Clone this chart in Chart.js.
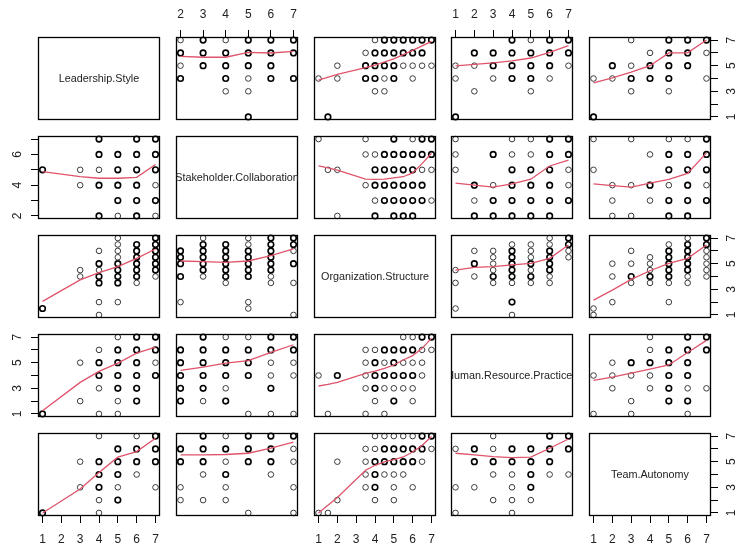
<!DOCTYPE html>
<html><head><meta charset="utf-8">
<script src="https://cdn.jsdelivr.net/npm/chart.js@4/dist/chart.umd.min.js"></script>
<style>
html,body{margin:0;padding:0;background:#fff;overflow:hidden;width:737px;height:548px;position:relative}
canvas{position:absolute}
</style></head><body>
<script>
// ---------------- data ----------------
const variables = ['Leadership.Style','Stakeholder.Collaboration','Organization.Structure','Human.Resource.Practices','Team.Autonomy'];
const valueRanges = [[1,7],[2,7],[1,7],[1,7],[1,7]];
const axisTicks = [[1,2,3,4,5,6,7],[2,3,4,5,6,7],[1,2,3,4,5,6,7],[1,2,3,4,5,6,7],[1,2,3,4,5,6,7]];
const horizontalTickLabels = [['1','2','3','4','5','6','7'],['2','3','4','5','6','7'],['1','2','3','4','5','6','7'],['1','2','3','4','5','6','7'],['1','2','3','4','5','6','7']];
const verticalTickLabels = [['1','','3','','5','','7'],['2','','4','','6',''],['1','','3','','5','','7'],['1','','3','','5','','7'],['1','','3','','5','','7']];

// observed pairs [first variable, second variable, n]  (n = 1 single point, 2 = overplotted)
const pts_L_S = [
  [7,2,1],[7,3,2],[7,4,1],[7,5,2],[7,6,2],[7,7,2],
  [6,2,2],[6,3,2],[6,4,2],[6,5,2],[6,6,2],[6,7,2],
  [5,2,1],[5,3,2],[5,4,2],[5,5,2],[5,6,2],
  [4,2,2],[4,4,2],[4,5,1],[4,6,2],[4,7,2],
  [3,4,1],[3,5,1],
  [1,5,2]];
const pts_L_O = [
  [7,4,1],[7,4.5,2],[7,5,2],[7,5.5,2],[7,6,2],[7,6.5,2],[7,7,2],
  [6,3.5,1],[6,4,2],[6,4.5,2],[6,5,2],[6,5.5,2],[6,6,2],[6,6.5,2],
  [5,2,1],[5,3.5,2],[5,4,2],[5,4.5,2],[5,5,2],[5,5.5,1],[5,6,1],[5,6.5,1],[5,7,1],
  [4,1,1],[4,2,1],[4,3.5,2],[4,4,2],[4,4.5,1],[4,5,2],[4,6,1],
  [3,4,1],[3,4.5,1],
  [1,1.5,2]];
const pts_L_H = [
  [7,4,2],[7,5,1],[7,6,2],[7,7,2],
  [6,2,2],[6,3,2],[6,4,2],[6,5,2],[6,6,2],[6,7,2],
  [5,1,1],[5,2,1],[5,3,2],[5,4,2],[5,5,2],[5,6,2],[5,7,1],
  [4,1,1],[4,3,1],[4,4,2],[4,5,2],[4,6,1],
  [3,2,1],[3,5,1],
  [1,1,2]];
const pts_L_T = [
  [7,3,1],[7,5,2],[7,6,2],[7,7,2],
  [6,4,1],[6,5,2],[6,6,2],[6,7,1],
  [5,2,2],[5,3,1],[5,4,2],[5,5,2],[5,6,2],
  [4,1,1],[4,2,1],[4,3,2],[4,4,2],[4,5,2],[4,7,1],
  [3,3,1],[3,5,1],
  [1,1,2]];
const pts_S_O = [
  [7,1,1],[7,3.5,1],[7,5,2],[7,6,1],[7,6.5,2],[7,7,2],
  [6,3.5,1],[6,4,1],[6,4.5,2],[6,5,2],[6,5.5,2],[6,6,2],[6,6.5,2],[6,7,2],
  [5,1.5,1],[5,2,1],[5,4,2],[5,4.5,2],[5,5,2],[5,5.5,2],[5,6,2],[5,6.5,1],[5,7,1],
  [4,3.5,1],[4,4,2],[4,4.5,2],[4,5,2],[4,5.5,2],[4,6,2],[4,6.5,2],
  [3,4,1],[3,4.5,2],[3,5,2],[3,5.5,2],[3,6,2],[3,6.5,2],[3,7,1],
  [2,2,1],[2,4,2],[2,5,2],[2,5.5,2],[2,6,2]];
const pts_S_H = [
  [7,1,1],[7,4,1],[7,5,1],[7,6,2],[7,7,2],
  [6,1,1],[6,3,2],[6,4,1],[6,5,1],[6,6,2],[6,7,2],
  [5,1,1],[5,4,2],[5,5,2],[5,6,2],[5,7,1],
  [4,2,2],[4,3,1],[4,4,2],[4,5,2],[4,6,2],[4,7,1],
  [3,2,1],[3,3,2],[3,4,2],[3,5,2],[3,6,2],[3,7,2],
  [2,2,2],[2,3,2],[2,4,2],[2,5,2],[2,6,2]];
const pts_S_T = [
  [7,1,1],[7,3,1],[7,5,1],[7,6,1],[7,7,2],
  [6,4,1],[6,5,2],[6,6,2],[6,7,2],
  [5,1,1],[5,5,2],[5,6,2],[5,7,2],
  [4,2,1],[4,3,1],[4,4,2],[4,5,1],[4,6,2],[4,7,1],
  [3,2,1],[3,4,1],[3,5,2],[3,6,2],[3,7,2],
  [2,2,1],[2,3,1],[2,5,2],[2,6,2]];
const pts_O_H = [
  [5.5,7,1],[6,7,1],[6.5,7,2],[7,7,2],
  [3.5,6,1],[4,6,1],[4.5,6,2],[5,6,2],[5.5,6,2],[6,6,2],[6.5,6,1],[7,6,1],
  [3.5,5,1],[4,5,2],[4.5,5,1],[5,5,2],[5.5,5,1],[6,5,1],[6.5,5,1],
  [1,4,1],[2,4,2],[3.5,4,1],[4,4,2],[4.5,4,2],[5,4,2],[5.5,4,2],[6,4,2],[6.5,4,1],
  [3.5,3,1],[4,3,2],[4.5,3,1],[5,3,1],[5.5,3,1],[6,3,1],
  [4,2,1],[5,2,2],[6,2,1],
  [1.5,1,1],[3.5,1,1],[4.5,1,1]];
const pts_O_T = [
  [4,7,1],[4.5,7,1],[5,7,1],[5.5,7,1],[6,7,1],[6.5,7,2],[7,7,2],
  [3.5,6,1],[4,6,1],[4.5,6,2],[5,6,2],[5.5,6,2],[6,6,2],[6.5,6,2],[7,6,1],
  [2,5,1],[3.5,5,1],[4,5,2],[4.5,5,2],[5,5,2],[5.5,5,2],[6,5,2],[6.5,5,1],
  [3.5,4,1],[4,4,2],[4.5,4,1],[5,4,1],[5.5,4,1],
  [3.5,3,1],[4,3,2],[5,3,1],[6,3,1],
  [2,2,1],[4,2,1],[5,2,1],
  [1,1,1],[1.5,1,1]];
const pts_H_T = [
  [7,4,1],[7,6,2],[7,7,2],
  [6,4,1],[6,5,2],[6,6,2],[6,7,2],
  [5,2,1],[5,3,2],[5,4,2],[5,5,2],[5,6,2],
  [4,1,1],[4,2,1],[4,3,1],[4,4,1],[4,5,2],[4,6,2],
  [3,2,1],[3,4,1],[3,5,2],[3,6,1],[3,7,1],
  [2,3,1],[2,5,2],[2,6,2],
  [1,1,1],[1,3,1],[1,6,1]];

// smoother lines per panel [x, y]
const smooth_1_2 = [[2,5.73],[3,5.66],[4,5.66],[5,6.04],[6,5.99],[7,6.12]];
const smooth_1_3 = [[1,3.88],[2,4.33],[3.5,4.85],[4,5.05],[5,5.53],[6,6.19],[7,6.9]];
const smooth_1_4 = [[1,4.98],[2,5.1],[3,5.22],[4,5.38],[5,5.6],[6,6.04],[7,6.56]];
const smooth_1_5 = [[1,3.66],[2,4.05],[3,4.5],[4,5.0],[5,6.0],[6,6.0],[7,7.0]];
const smooth_2_1 = [[1,4.88],[3,4.56],[4,4.45],[5,4.45],[6,4.51],[7,5.35]];
const smooth_2_3 = [[1,5.26],[1.5,5.13],[2,4.98],[3.5,4.4],[4,4.38],[4.5,4.4],[5,4.48],[5.5,4.55],[6,4.8],[6.5,5.4],[7,6.08]];
const smooth_2_4 = [[1,4.13],[2,4.0],[3,3.88],[4,4.08],[5,4.39],[6,5.25],[7,5.63]];
const smooth_2_5 = [[1,4.08],[2,3.97],[3,3.87],[4,4.13],[5,4.38],[6,4.77],[7,6.1]];
const smooth_3_1 = [[1,2.06],[3,3.73],[4,4.3],[5,4.77],[6,5.42],[7,6.15]];
const smooth_3_2 = [[2,5.21],[3,5.16],[4,5.1],[5,5.21],[6,5.63],[7,6.15]];
const smooth_3_4 = [[1,4.5],[2,4.71],[3,4.77],[4,4.9],[5,5.03],[6,5.42],[7,6.46]];
const smooth_3_5 = [[1,2.16],[2,2.94],[3,3.77],[4,4.45],[5,5.03],[6,5.42],[7,6.46]];
const smooth_4_1 = [[1,1.25],[3,3.46],[4,4.32],[5,4.97],[6,5.75],[7,6.22]];
const smooth_4_2 = [[2,4.4],[3,4.66],[4,4.97],[5,5.16],[6,5.8],[7,6.4]];
const smooth_4_3 = [[1,3.18],[1.5,3.3],[2,3.47],[3.5,4.17],[4,4.35],[4.5,4.56],[5,4.82],[5.5,5.21],[6,5.55],[6.5,6.12],[7,6.9]];
const smooth_4_5 = [[1,3.62],[2,3.88],[3,4.19],[4,4.5],[5,4.82],[6,5.8],[7,6.74]];
const smooth_5_1 = [[1,1.0],[3,2.87],[4,4.16],[5,5.35],[6,5.79],[7,6.83]];
const smooth_5_2 = [[2,5.53],[3,5.53],[4,5.56],[5,5.66],[6,6.05],[7,6.52]];
const smooth_5_3 = [[1,1.0],[1.5,1.6],[2,2.2],[3.5,4.33],[4,4.72],[4.5,4.98],[5,5.16],[5.5,5.37],[6,5.76],[6.5,6.27],[7,6.97]];
const smooth_5_4 = [[1,5.66],[2,5.53],[3,5.4],[4,5.32],[5,5.35],[6,6.05],[7,6.77]];

const pairPoints = {'0-1':pts_L_S,'0-2':pts_L_O,'0-3':pts_L_H,'0-4':pts_L_T,'1-2':pts_S_O,'1-3':pts_S_H,'1-4':pts_S_T,'2-3':pts_O_H,'2-4':pts_O_T,'3-4':pts_H_T};
const panelSmooth = {'0-1':smooth_1_2,'0-2':smooth_1_3,'0-3':smooth_1_4,'0-4':smooth_1_5,
  '1-0':smooth_2_1,'1-2':smooth_2_3,'1-3':smooth_2_4,'1-4':smooth_2_5,
  '2-0':smooth_3_1,'2-1':smooth_3_2,'2-3':smooth_3_4,'2-4':smooth_3_5,
  '3-0':smooth_4_1,'3-1':smooth_4_2,'3-2':smooth_4_3,'3-4':smooth_4_5,
  '4-0':smooth_5_1,'4-1':smooth_5_2,'4-2':smooth_5_3,'4-3':smooth_5_4};

// ---------------- layout ----------------
const colLeft = [38,176,314,451,589], rowTop = [37,136,235,334,433];
const BW = 122, BH = 83;
const M = {l:34, r:26, t:34, b:31};
const FONT = '"Liberation Sans", Arial, Helvetica, sans-serif';
Chart.defaults.font.family = FONT;
Chart.defaults.font.size = 12;

function padded(v){ const [a,b] = valueRanges[v]; const d = (b-a)*0.04; return [a-d, b+d]; }

const boxPlugin = {
  id:'panelBox',
  afterDraw(chart){
    const {ctx, chartArea:ca} = chart;
    ctx.save();
    ctx.strokeStyle = '#000'; ctx.lineWidth = 1.3;
    ctx.strokeRect(Math.round(ca.left)+0.5, Math.round(ca.top)+0.5, Math.round(ca.width)-1, Math.round(ca.height)-1);
    ctx.restore();
  }
};

function makeLabelPlugin(text){
  return {
    id:'diagLabel',
    afterDraw(chart){
      const {ctx, chartArea:ca} = chart;
      ctx.save();
      ctx.beginPath(); ctx.rect(ca.left, ca.top, ca.width, ca.height); ctx.clip();
      ctx.fillStyle = '#222';
      ctx.font = '10.8px ' + FONT;
      ctx.textAlign = 'center'; ctx.textBaseline = 'middle';
      ctx.fillText(text, (ca.left+ca.right)/2, (ca.top+ca.bottom)/2 + 0.5);
      ctx.restore();
    }
  };
}

for (let r = 0; r < 5; r++) {
  for (let c = 0; c < 5; c++) {
    const hasTop = r === 0 && c % 2 === 1;
    const hasBottom = r === 4 && c % 2 === 0;
    const hasLeft = c === 0 && r % 2 === 1;
    const hasRight = c === 4 && r % 2 === 0;
    const cv = document.createElement('canvas');
    const W = M.l + BW + M.r, H = M.t + BH + M.b;
    cv.width = W; cv.height = H;
    cv.style.width = W + 'px'; cv.style.height = H + 'px';
    cv.style.left = (colLeft[c] - M.l) + 'px';
    cv.style.top = (rowTop[r] - M.t) + 'px';
    document.body.appendChild(cv);

    const [xmin, xmax] = padded(c);
    const [ymin, ymax] = padded(r);
    const datasets = [];
    const plugins = [boxPlugin];
    if (r === c) {
      plugins.push(makeLabelPlugin(variables[r]));
    } else {
      const key = r < c ? r + '-' + c : c + '-' + r;
      const pts = pairPoints[key].map(p => r < c ? {x:p[1], y:p[0], n:p[2]} : {x:p[0], y:p[1], n:p[2]});
      const sm = panelSmooth[r + '-' + c].map(p => ({x:p[0], y:p[1]}));
      datasets.push({
        data: sm, showLine: true, pointRadius: 0, borderColor: '#DF536B', borderWidth: 1.3,
        fill: false, tension: 0, clip: false
      });
      datasets.push({
        data: pts, showLine: false, pointStyle: 'circle', pointRadius: 2.8,
        pointBackgroundColor: 'rgba(0,0,0,0)',
        pointBorderColor: ctx => (ctx.raw && ctx.raw.n > 1) ? '#000' : '#3a3a3a',
        pointBorderWidth: ctx => (ctx.raw && ctx.raw.n > 1) ? 1.6 : 1.0,
        clip: false
      });
    }

    new Chart(cv, {
      type: 'scatter',
      data: { datasets },
      plugins,
      options: {
        responsive: false, animation: false, devicePixelRatio: 1, events: [],
        layout: { padding: { top: hasTop ? 0 : M.t, bottom: hasBottom ? 0 : M.b, left: hasLeft ? 0 : M.l, right: hasRight ? 0 : M.r } },
        plugins: { legend: { display: false }, tooltip: { enabled: false } },
        scales: {
          x: {
            type: 'linear', display: hasTop || hasBottom, position: hasTop ? 'top' : 'bottom',
            min: xmin, max: xmax,
            afterBuildTicks: s => { s.ticks = axisTicks[c].map(v => ({value: v})); },
            afterFit: s => { s.height = hasTop ? M.t : (hasBottom ? M.b : 0); },
            ticks: { autoSkip: false, minRotation: 0, maxRotation: 0, padding: hasTop ? 8 : 9, color: '#222', font: {size: 12},
              callback: v => horizontalTickLabels[c][axisTicks[c].indexOf(v)] },
            grid: { display: true, drawOnChartArea: false, drawTicks: true, tickLength: 7, color: '#000', lineWidth: 1 },
            border: { display: false }
          },
          y: {
            type: 'linear', display: hasLeft || hasRight, position: hasLeft ? 'left' : 'right',
            min: ymin, max: ymax,
            afterBuildTicks: s => { s.ticks = axisTicks[r].map(v => ({value: v})); },
            afterFit: s => { s.width = hasLeft ? M.l : (hasRight ? M.r : 0); },
            ticks: { autoSkip: false, minRotation: 90, maxRotation: 90, crossAlign: 'center', padding: 10, color: '#222', font: {size: 12},
              callback: v => verticalTickLabels[r][axisTicks[r].indexOf(v)] },
            grid: { display: true, drawOnChartArea: false, drawTicks: true, tickLength: 7, color: '#000', lineWidth: 1 },
            border: { display: false }
          }
        }
      }
    });
  }
}
</script>
</body></html>
